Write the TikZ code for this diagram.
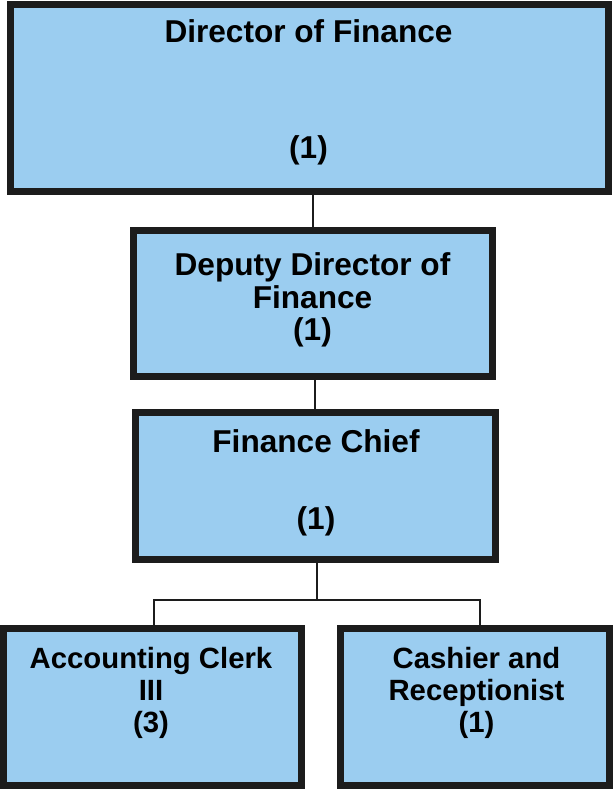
\documentclass[tikz,border=0pt]{standalone}
\usepackage{fontspec}
\setmainfont{Liberation Sans}
\definecolor{boxfill}{RGB}{155,205,240}
\definecolor{boxline}{RGB}{28,28,28}
\begin{document}
\begin{tikzpicture}[x=1pt,y=-1pt,
  box/.style={draw=boxline,fill=boxfill,line width=7pt,rectangle,inner sep=0pt},
  conn/.style={draw=boxline,line width=1.8pt},
  bigtxt/.style={anchor=base,inner sep=0pt,font=\fontsize{31.6}{33}\selectfont\bfseries,text=black},
  smalltxt/.style={anchor=base,inner sep=0pt,font=\fontsize{29.3}{32}\selectfont\bfseries,text=black}]
\useasboundingbox (0,0) rectangle (613,789);
% connector coordinates
\coordinate (c1) at (313,0);
\coordinate (c2) at (315,0);
\coordinate (c3) at (317,0);
\coordinate (bar) at (0,600);
\coordinate (lx) at (154,0);
\coordinate (rx) at (480,0);
% boxes
\node[box,minimum width=598pt,minimum height=187pt] (top) at (309.5,98) {};
\node[box,minimum width=359pt,minimum height=146pt] (dep) at (313,303.5) {};
\node[box,minimum width=360pt,minimum height=147pt] (chief) at (315.5,486) {};
\node[box,minimum width=298pt,minimum height=157pt] (clerk) at (152.5,707) {};
\node[box,minimum width=269pt,minimum height=157pt] (cash) at (475,707) {};
% connectors
\draw[conn] (top.south -| c1) -- (dep.north -| c1);
\draw[conn] (dep.south -| c2) -- (chief.north -| c2);
\draw[conn] (chief.south -| c3) -- (bar -| c3);
\draw[conn] (clerk.north -| lx) -- (bar -| lx) -- (bar -| rx) -- (cash.north -| rx);
% texts
\node[bigtxt] (t1) at (308.5,43) {Director of Finance};
\node[bigtxt] (t1n) at (308.5,158) {(1)};
\node[bigtxt] (t2a) at (312.5,275) {Deputy Director of};
\node[bigtxt] (t2b) at (312.5,308) {Finance};
\node[bigtxt] (t2n) at (312.5,340) {(1)};
\node[bigtxt] (t3) at (316,452) {Finance Chief};
\node[bigtxt] (t3n) at (316,529) {(1)};
\node[smalltxt] (t4a) at (151,668) {Accounting Clerk};
\node[smalltxt] (t4b) at (151,700) {III};
\node[smalltxt] (t4n) at (151,732) {(3)};
\node[smalltxt] (t5a) at (476.5,668) {Cashier and};
\node[smalltxt] (t5b) at (476.5,700) {Receptionist};
\node[smalltxt] (t5n) at (476.5,732) {(1)};
\end{tikzpicture}
\end{document}
